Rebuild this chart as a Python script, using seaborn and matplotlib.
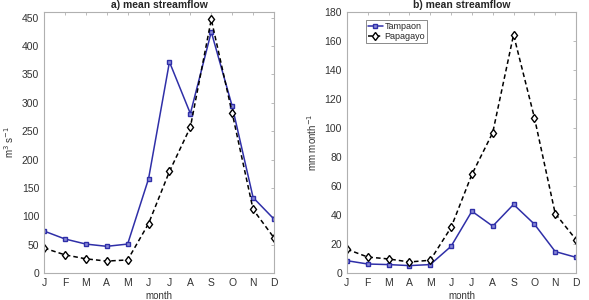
import numpy as np
import pandas as pd
import matplotlib
matplotlib.use("Agg")
import matplotlib.pyplot as plt
import seaborn as sns

months = ['J', 'F', 'M', 'A', 'M', 'J', 'J', 'A', 'S', 'O', 'N', 'D']
month_num = list(range(1, 13))

# a) mean streamflow, m3 s-1
tampaon_q = [74, 60, 51, 47, 51, 166, 372, 281, 425, 294, 133, 95]
papagayo_q = [44, 32, 25, 21, 23, 87, 179, 257, 447, 282, 112, 62]

# b) mean streamflow, mm month-1
tampaon_mm = [8.5, 6.2, 5.8, 5.1, 5.8, 18.4, 42.6, 32.3, 47.3, 33.7, 14.8, 10.8]
papagayo_mm = [16.4, 11.0, 9.7, 7.6, 8.8, 31.4, 68.0, 96.8, 164.3, 107.2, 41.0, 23.0]

sns.set_style("white")
plt.rcParams['font.family'] = ['Liberation Sans', 'DejaVu Sans']

fig = plt.figure(figsize=(5.89, 3.0), dpi=100)
ax1 = fig.add_axes([0.0747, 0.09, 0.3905, 0.87])
ax2 = fig.add_axes([0.589, 0.09, 0.389, 0.87])

blue = '#2f2fa8'
grey = '#b0b0b0'


def draw(ax, tamp, papa, ylim, yticks, ylabel, title):
    df = pd.DataFrame({'month': month_num, 'Tampaon': tamp, 'Papagayo': papa})
    sns.lineplot(data=df, x='month', y='Tampaon', ax=ax, color=blue, lw=1.1,
                 marker='s', markersize=3.5, markerfacecolor='#8a8ad8',
                 markeredgecolor=blue, markeredgewidth=1.0, label='Tampaon')
    sns.lineplot(data=df, x='month', y='Papagayo', ax=ax, color='black', lw=1.1,
                 dashes=(3, 2), marker='d', markersize=4.5, markerfacecolor='white',
                 markeredgecolor='black', markeredgewidth=1.0, label='Papagayo')
    ax.lines[-1].set_dashes((3, 2))
    ax.set_xlim(1, 12)
    ax.set_ylim(*ylim)
    ax.set_xticks(month_num)
    ax.set_xticklabels(months)
    ax.set_yticks(yticks)
    ax.set_xlabel('month', fontsize=7, color='#333333', labelpad=2)
    ax.set_ylabel(ylabel, fontsize=7, color='#333333', labelpad=4)
    ax.set_title(title, fontsize=7.5, fontweight='bold', pad=3)
    ax.tick_params(direction='in', length=2.5, width=0.6, colors=grey,
                   labelcolor='#333333', labelsize=7.5, top=True, right=True)
    for s in ax.spines.values():
        s.set_color(grey)
        s.set_linewidth(0.8)


draw(ax1, tampaon_q, papagayo_q, (0, 460), range(0, 451, 50),
     r'm$^{3}$ s$^{-1}$', 'a) mean streamflow')
draw(ax2, tampaon_mm, papagayo_mm, (0, 180), range(0, 181, 20),
     r'mm month$^{-1}$', 'b) mean streamflow')

ax1.get_legend().remove()
leg = ax2.legend(loc='upper left', bbox_to_anchor=(0.083, 0.97), borderaxespad=0,
                 fontsize=6.5, handlelength=1.6, handletextpad=0.2, borderpad=0.25,
                 labelspacing=0.1, fancybox=False, framealpha=1)
leg.get_frame().set_edgecolor('#777777')
leg.get_frame().set_linewidth(0.6)

fig.savefig('out.png', dpi=100)
